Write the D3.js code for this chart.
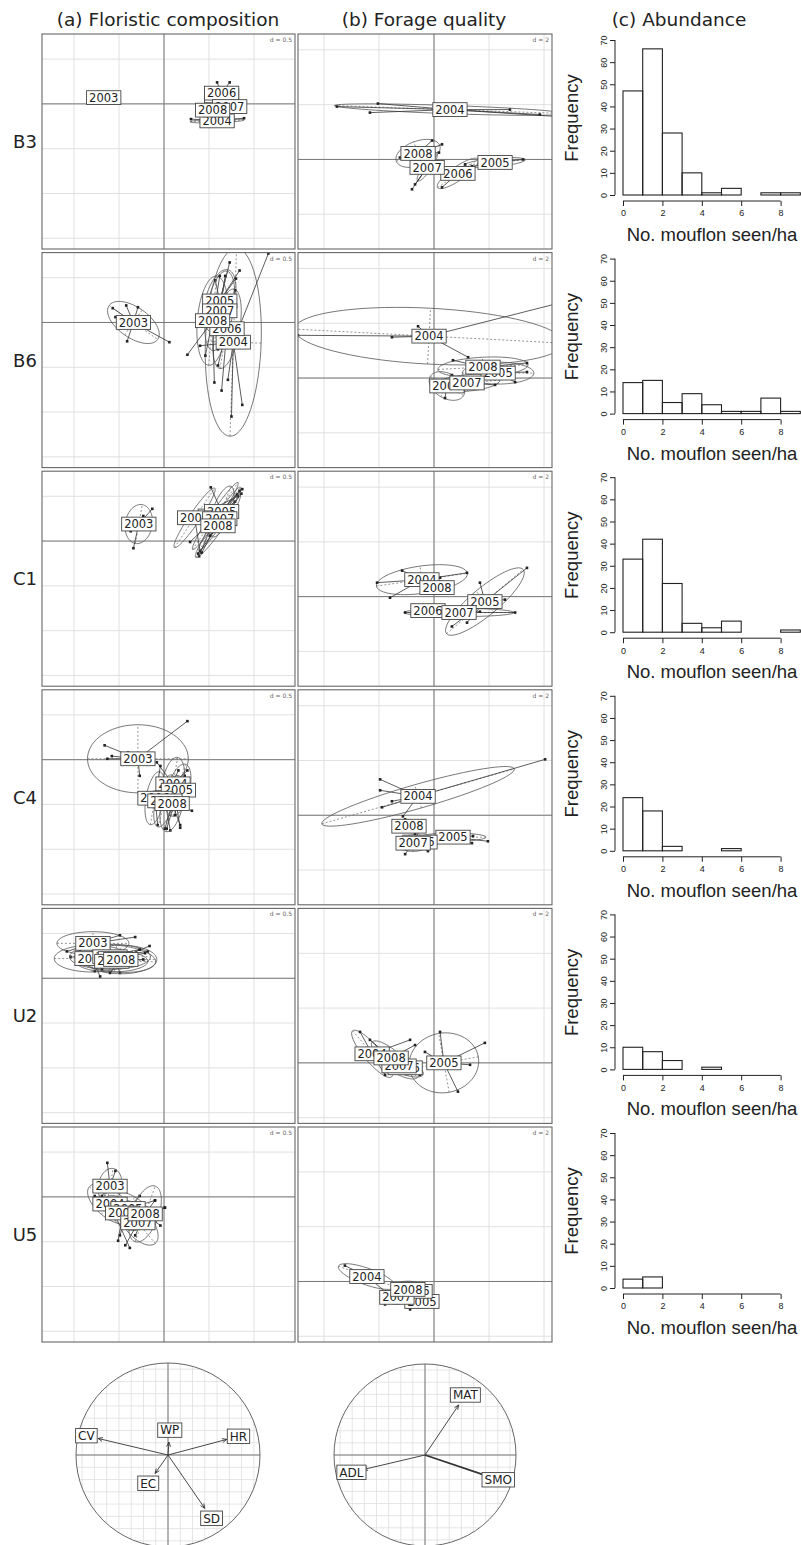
<!DOCTYPE html>
<html><head><meta charset="utf-8">
<script src="https://cdn.jsdelivr.net/npm/d3@7"></script>
<style>body{margin:0;background:#fff}</style>
</head><body><svg id="c" width="801" height="1545"></svg>
<script>
// ---------------- DATA ----------------
const rows = ["B3","B6","C1","C4","U2","U5"];
const headers = ["(a) Floristic composition","(b) Forage quality","(c) Abundance"];
const dLabels = ["d = 0.5","d = 2"];
const gridStep = [0.5, 2];
const limA = [[-1.356,1.456],[-1.62,0.78]];
const limB = [[-4.945,4.29],[-3.27,4.58]];
const limB2 = [[-4.945,4.29],[-2.21,5.64]];

// s.class data: centroid c, ellipse e = [semi-axis 1, semi-axis 2, angle deg], points p
const flo_B3 = [
 {yr:"2003", c:[-0.67,0.07], e:[0.05,0.03,0], p:[[-0.71,0.08],[-0.63,0.06]]},
 {yr:"2004", c:[0.59,-0.19], e:[0.30,0.02,2], p:[[0.30,-0.17],[0.89,-0.16],[0.50,-0.20],[0.72,-0.19]]},
 {yr:"2005", c:[0.64,0.09], e:[0.08,0.03,0], p:[[0.58,0.10],[0.70,0.08]]},
 {yr:"2006", c:[0.64,0.12], e:[0.10,0.07,0], p:[[0.59,0.24],[0.73,0.24],[0.66,0.05]]},
 {yr:"2007", c:[0.73,-0.03], e:[0.08,0.03,0], p:[[0.80,-0.02],[0.66,-0.04]]},
 {yr:"2008", c:[0.54,-0.07], e:[0.06,0.03,0], p:[[0.49,-0.06],[0.60,-0.08]]}
];
const flo_B6 = [
 {yr:"2003", c:[-0.34,0.0], e:[0.33,0.17,-35], p:[[-0.42,0.19],[-0.29,0.17],[-0.54,0.06],[-0.41,-0.21],[0.06,-0.22],[-0.57,0.16]]},
 {yr:"2004", c:[0.77,-0.22], e:[1.05,0.31,88], p:[[0.87,-0.92],[1.16,0.77],[0.71,-0.64],[0.84,-0.09],[0.40,-0.26],[0.75,-1.05]]},
 {yr:"2005", c:[0.62,0.24], e:[0.36,0.16,75], p:[[0.73,0.67],[0.84,0.58],[0.57,0.47],[0.49,0.24],[0.80,0.49]]},
 {yr:"2006", c:[0.70,-0.07], e:[0.45,0.14,80], p:[[0.64,-0.76],[0.79,0.36],[0.60,-0.48],[0.75,0.20]]},
 {yr:"2007", c:[0.62,0.13], e:[0.45,0.15,80], p:[[0.68,0.52],[0.53,-0.09],[0.71,0.24],[0.60,-0.30]]},
 {yr:"2008", c:[0.54,0.02], e:[0.50,0.17,85], p:[[0.56,-0.67],[0.46,-0.37],[0.62,0.52],[0.26,-0.36]]}
];
const flo_C1 = [
 {yr:"2003", c:[-0.28,0.19], e:[0.22,0.15,80], p:[[-0.13,0.36],[-0.34,-0.08],[-0.23,0.28],[-0.37,0.11]]},
 {yr:"2004", c:[0.57,0.28], e:[0.45,0.05,56], p:[[0.87,0.58],[0.39,-0.17],[0.68,0.22],[0.79,0.44],[0.50,0.10]]},
 {yr:"2005", c:[0.64,0.33], e:[0.30,0.10,70], p:[[0.52,0.60],[0.29,-0.01],[0.81,0.52]]},
 {yr:"2006", c:[0.34,0.26], e:[0.40,0.06,56], p:[[0.40,-0.11],[0.82,0.50],[0.57,0.22]]},
 {yr:"2007", c:[0.62,0.25], e:[0.42,0.05,57], p:[[0.42,-0.13],[0.84,0.56],[0.73,0.39]]},
 {yr:"2008", c:[0.60,0.17], e:[0.43,0.06,55], p:[[0.38,-0.14],[0.86,0.53],[0.68,0.28],[0.51,0.06]]}
];
const flo_C4 = [
 {yr:"2003", c:[-0.29,0.01], e:[0.56,0.38,0], p:[[0.26,0.43],[-0.66,0.16],[-0.58,0.04],[-0.27,-0.18],[-0.63,0.01],[-0.40,0.08]]},
 {yr:"2004", c:[0.10,-0.27], e:[0.30,0.12,80], p:[[-0.08,-0.03],[0.26,-0.12],[0.18,-0.76],[0.03,-0.46]]},
 {yr:"2005", c:[0.16,-0.34], e:[0.30,0.12,75], p:[[0.23,-0.18],[0.03,-0.77],[0.12,-0.62]]},
 {yr:"2006", c:[-0.10,-0.43], e:[0.30,0.10,80], p:[[-0.04,-0.07],[-0.07,-0.73]]},
 {yr:"2007", c:[0.01,-0.46], e:[0.30,0.10,75], p:[[0.16,-0.12],[0.07,-0.79]]},
 {yr:"2008", c:[0.09,-0.49], e:[0.32,0.12,78], p:[[0.24,-0.23],[0.18,-0.73],[0.01,-0.77],[0.31,-0.57]]}
];
const flo_U2 = [
 {yr:"2003", c:[-0.79,0.39], e:[0.40,0.13,0], p:[[-0.49,0.48],[-1.08,0.30],[-0.93,0.32],[-0.32,0.46]]},
 {yr:"2004", c:[-0.80,0.22], e:[0.42,0.15,0], p:[[-1.04,0.24],[-0.27,0.32],[-0.71,0.02]]},
 {yr:"2005", c:[-0.60,0.24], e:[0.45,0.14,0], p:[[-0.18,0.30],[-0.77,0.08]]},
 {yr:"2006", c:[-0.54,0.22], e:[0.45,0.15,-5], p:[[-0.21,0.28],[-0.49,0.06]]},
 {yr:"2007", c:[-0.58,0.19], e:[0.40,0.12,0], p:[[-0.16,0.36],[-0.69,0.10]]},
 {yr:"2008", c:[-0.48,0.21], e:[0.40,0.16,0], p:[[-0.27,0.32],[-0.60,0.06],[-0.23,0.21]]}
];
const flo_U5 = [
 {yr:"2003", c:[-0.60,0.12], e:[0.20,0.13,80], p:[[-0.63,0.38],[-0.54,0.29],[-0.69,0.01]]},
 {yr:"2004", c:[-0.60,-0.08], e:[0.30,0.15,-40], p:[[-0.38,-0.57],[-0.77,0.01],[-0.43,-0.04]]},
 {yr:"2005", c:[-0.40,-0.13], e:[0.30,0.15,-30], p:[[-0.10,-0.04],[-0.49,-0.43]]},
 {yr:"2006", c:[-0.46,-0.18], e:[0.25,0.12,-45], p:[[-0.27,0.01],[-0.51,-0.49]]},
 {yr:"2007", c:[-0.29,-0.29], e:[0.30,0.15,-50], p:[[-0.43,-0.54],[0.01,-0.12]]},
 {yr:"2008", c:[-0.21,-0.19], e:[0.33,0.15,70], p:[[0.01,-0.12],[-0.10,-0.04],[-0.04,-0.32],[-0.32,-0.43]]}
];

const for_B3 = [
 {yr:"2004", c:[0.58,1.82], e:[4.2,0.15,-2], p:[[-2.04,2.04],[-2.33,1.71],[-3.53,1.93],[2.76,1.82],[3.85,1.64],[4.60,1.56]]},
 {yr:"2005", c:[2.22,-0.11], e:[1.1,0.15,5], p:[[3.24,0.0],[1.38,-0.25],[2.76,-0.11]]},
 {yr:"2006", c:[0.87,-0.51], e:[0.9,0.25,35], p:[[0.29,-1.02],[1.13,-0.18],[1.31,-0.36]]},
 {yr:"2007", c:[-0.25,-0.29], e:[0.6,0.15,55], p:[[-0.80,-1.09],[-0.69,-0.91],[0.22,-0.18]]},
 {yr:"2008", c:[-0.58,0.22], e:[0.84,0.45,20], p:[[-0.07,0.69],[0.29,0.55],[0.18,0.25],[-1.24,0.07]]}
];
const for_B6 = [
 {yr:"2004", c:[-0.18,1.53], e:[4.9,1.02,-3], p:[[-0.58,1.89],[-1.53,1.49],[-4.95,1.56],[4.95,2.84],[1.24,0.76]]},
 {yr:"2005", c:[2.33,0.18], e:[1.3,0.4,0], p:[[3.38,0.22],[2.95,-0.15],[1.31,0.29]]},
 {yr:"2006", c:[0.47,-0.29], e:[0.7,0.45,-30], p:[[0.40,-0.73],[0.65,0.11]]},
 {yr:"2007", c:[1.20,-0.18], e:[1.2,0.3,5], p:[[2.22,-0.25],[0.22,-0.15]]},
 {yr:"2008", c:[1.78,0.40], e:[1.64,0.36,3], p:[[3.38,0.55],[0.69,0.65],[2.58,0.22]]}
];
const for_C1 = [
 {yr:"2004", c:[-0.44,0.62], e:[1.67,0.5,8], p:[[-1.16,0.95],[1.2,0.87],[-1.6,-0.04],[-2.07,0.51],[0.22,0.69]]},
 {yr:"2005", c:[1.85,-0.18], e:[1.82,0.5,40], p:[[3.38,1.05],[1.67,0.51],[0.65,-1.09],[1.2,-0.95],[2.58,-0.11]]},
 {yr:"2006", c:[-0.22,-0.51], e:[0.5,0.2,0], p:[[-0.51,-0.55],[0.22,-0.40]]},
 {yr:"2007", c:[0.91,-0.58], e:[2.0,0.15,0], p:[[-1.05,-0.58],[2.95,-0.58],[1.67,-0.55]]},
 {yr:"2008", c:[0.11,0.33], e:[0.6,0.25,0], p:[[0.40,0.51],[-0.22,0.11]]}
];
const for_C4 = [
 {yr:"2004", c:[-0.58,0.69], e:[3.64,0.44,16], p:[[4.04,2.04],[-1.96,0.91],[-1.89,0.29],[-1.13,-0.04],[-1.53,0.51],[-1.96,1.31]]},
 {yr:"2005", c:[0.69,-0.80], e:[1.2,0.15,0], p:[[1.42,-0.76],[1.38,-1.02],[1.96,-0.95]]},
 {yr:"2006", c:[-0.51,-0.98], e:[0.5,0.25,0], p:[[-0.87,-1.2],[-0.15,-0.9]]},
 {yr:"2007", c:[-0.76,-1.02], e:[0.6,0.3,0], p:[[-1.05,-1.42],[-0.22,-1.31],[-0.51,-0.51]]},
 {yr:"2008", c:[-0.91,-0.40], e:[0.4,0.2,0], p:[[-1.05,-0.15],[-0.69,-0.69],[-0.40,-0.20]]}
];
const for_U2 = [
 {yr:"2004", c:[-2.25,0.33], e:[1.1,0.3,-50], p:[[-2.69,1.13],[-1.78,-0.44],[-0.87,0.84]]},
 {yr:"2005", c:[0.36,0.0], e:[1.27,1.09,10], p:[[1.85,0.73],[0.87,-1.05],[-0.33,0.40],[1.31,-0.07],[0.22,1.13]]},
 {yr:"2006", c:[-1.05,-0.18], e:[0.7,0.25,-20], p:[[-1.6,0.0],[-0.51,-0.44]]},
 {yr:"2007", c:[-1.27,-0.11], e:[0.8,0.3,-30], p:[[-1.96,0.11],[-0.80,-0.33]]},
 {yr:"2008", c:[-1.56,0.18], e:[0.9,0.3,-40], p:[[-2.33,0.84],[-1.24,-0.25],[-0.69,0.65]]}
];
const for_U5 = [
 {yr:"2004", c:[-2.44,0.18], e:[1.1,0.3,-20], p:[[-3.24,0.58],[-1.78,-0.36],[-2.69,0.36]]},
 {yr:"2005", c:[-0.44,-0.73], e:[0.5,0.25,0], p:[[-0.15,-0.47],[-0.87,-1.02]]},
 {yr:"2006", c:[-0.69,-0.36], e:[0.5,0.25,0], p:[[-0.33,-0.22],[-1.05,-0.58]]},
 {yr:"2007", c:[-1.35,-0.58], e:[0.5,0.25,0], p:[[-1.78,-0.84],[-0.87,-0.65]]},
 {yr:"2008", c:[-0.95,-0.29], e:[0.6,0.3,0], p:[[-1.42,-0.11],[-0.51,-0.11]]}
];

// histograms: counts per bin of width 1, from 0 to 9
const binEdges = [0,1,2,3,4,5,6,7,8,9];
const hist_B3 = [47,66,28,10,1,3,0,1,1];
const hist_B6 = [14,15,5,9,4,1,1,7,1];
const hist_C1 = [33,42,22,4,2,5,0,0,1];
const hist_C4 = [24,18,2,0,0,1,0,0,0];
const hist_U2 = [10,8,4,0,1,0,0,0,0];
const hist_U5 = [4,5,0,0,0,0,0,0,0];
const histXTicks = [0,2,4,6,8];
const histYTicks = [0,10,20,30,40,50,60,70];
const histXLabel = "No. mouflon seen/ha";
const histYLabel = "Frequency";

// correlation circles
const floVars = ["CV","WP","HR","EC","SD"];
const floLoadX = [-0.76,0.01,0.64,-0.14,0.40];
const floLoadY = [0.18,0.14,0.17,-0.20,-0.58];
const forVars = ["MAT","ADL","SMO"];
const forLoadX = [0.37,-0.68,0.68];
const forLoadY = [0.55,-0.16,-0.23];

// ---------------- DRAWING ----------------
const svg = d3.select("#c");
const SANS = "'DejaVu Sans', sans-serif";
const ARIAL = "'Liberation Sans', Arial, sans-serif";
const TOP0 = 34, STEP = 218.6, PH = 215;
const colX = [[42,295],[298,552]];
let clipN = 0;

function boxLabel(g, cx, cy, txt, fs){
  const gg = g.append("g");
  const r = gg.append("rect");
  const t = gg.append("text").attr("x",cx).attr("y",cy+fs*0.36)
    .attr("text-anchor","middle").attr("font-family",SANS).attr("font-size",fs)
    .attr("fill","#222").text(txt);
  const w = t.node().getComputedTextLength();
  r.attr("x",cx-w/2-2.5).attr("y",cy-fs*0.6).attr("width",w+5).attr("height",fs*1.2)
   .attr("fill","#fff").attr("stroke","#444").attr("stroke-width",0.9);
}

function sclass(x0,x1,yTop,lim,d,dlab,classes){
  const yBot = yTop+PH;
  const x = d3.scaleLinear().domain(lim[0]).range([x0,x1]);
  const y = d3.scaleLinear().domain(lim[1]).range([yBot,yTop]);
  const id = "clip"+(clipN++);
  svg.append("clipPath").attr("id",id).append("rect")
    .attr("x",x0).attr("y",yTop).attr("width",x1-x0).attr("height",PH);
  const g = svg.append("g").attr("clip-path",`url(#${id})`);
  const gxs = d3.range(Math.ceil(lim[0][0]/d), Math.floor(lim[0][1]/d)+1).map(k=>k*d);
  const gys = d3.range(Math.ceil(lim[1][0]/d), Math.floor(lim[1][1]/d)+1).map(k=>k*d);
  g.selectAll(null).data(gxs).join("line")
    .attr("x1",v=>x(v)).attr("x2",v=>x(v)).attr("y1",yTop).attr("y2",yBot)
    .attr("stroke","#dcdcdc").attr("stroke-width",0.9);
  g.selectAll(null).data(gys).join("line")
    .attr("y1",v=>y(v)).attr("y2",v=>y(v)).attr("x1",x0).attr("x2",x1)
    .attr("stroke","#dcdcdc").attr("stroke-width",0.9);
  g.append("line").attr("x1",x(0)).attr("x2",x(0)).attr("y1",yTop).attr("y2",yBot)
    .attr("stroke","#777").attr("stroke-width",1);
  g.append("line").attr("y1",y(0)).attr("y2",y(0)).attr("x1",x0).attr("x2",x1)
    .attr("stroke","#777").attr("stroke-width",1);
  g.append("text").attr("x",x1-3).attr("y",yTop+8).attr("text-anchor","end")
    .attr("font-family",SANS).attr("font-size",6).attr("fill","#666").text(dlab);

  const line = d3.line().x(p=>x(p[0])).y(p=>y(p[1]));
  classes.forEach(k=>{
    const a = k.e[2]*Math.PI/180, rx = k.e[0], ry = k.e[1];
    const ell = d3.range(0,73).map(i=>{
      const t = i/72*2*Math.PI;
      return [k.c[0]+rx*Math.cos(t)*Math.cos(a)-ry*Math.sin(t)*Math.sin(a),
              k.c[1]+rx*Math.cos(t)*Math.sin(a)+ry*Math.sin(t)*Math.cos(a)];
    });
    g.append("path").attr("d",line(ell)).attr("fill","none").attr("stroke","#555").attr("stroke-width",0.8);
    [[rx*Math.cos(a),rx*Math.sin(a)],[-ry*Math.sin(a),ry*Math.cos(a)]].forEach(v=>{
      g.append("path").attr("d",line([[k.c[0]-v[0],k.c[1]-v[1]],[k.c[0]+v[0],k.c[1]+v[1]]]))
       .attr("stroke","#666").attr("stroke-width",0.7).attr("stroke-dasharray","2,2").attr("fill","none");
    });
    k.p.forEach(p=>{
      g.append("path").attr("d",line([k.c,p])).attr("stroke","#333").attr("stroke-width",0.8).attr("fill","none");
      g.append("rect").attr("x",x(p[0])-1.3).attr("y",y(p[1])-1.3).attr("width",2.6).attr("height",2.6).attr("fill","#222");
    });
  });
  classes.forEach(k=> boxLabel(g, x(k.c[0]), y(k.c[1]), k.yr, 11.5));
  svg.append("rect").attr("x",x0).attr("y",yTop).attr("width",x1-x0).attr("height",PH)
    .attr("fill","none").attr("stroke","#666").attr("stroke-width",1.1);
}

function histo(i, counts){
  const base = 195 + i*STEP;
  const x = d3.scaleLinear().domain([0,9]).range([623,800.3]);
  const y = d3.scaleLinear().domain([0,70]).range([base, base-155]);
  const g = svg.append("g");
  g.selectAll(null).data(counts).join("rect")
    .attr("x",(c,j)=>x(binEdges[j])).attr("width",(c,j)=>x(binEdges[j+1])-x(binEdges[j]))
    .attr("y",c=>y(c)).attr("height",c=>base-y(c))
    .attr("fill","none").attr("stroke","#222").attr("stroke-width",1.1);
  const xa = g.append("g").attr("transform",`translate(0,${base+6})`)
    .call(d3.axisBottom(x).tickValues(histXTicks).tickSize(5).tickSizeOuter(0).tickPadding(4));
  xa.select(".domain").attr("d",`M${x(0)},0H${x(8)}`).attr("stroke","#222");
  xa.selectAll("text").attr("font-family",ARIAL).attr("font-size",9).attr("fill","#222");
  xa.selectAll(".tick line").attr("stroke","#222");
  const ya = g.append("g").attr("transform",`translate(615,0)`)
    .call(d3.axisLeft(y).tickValues(histYTicks).tickSize(5).tickSizeOuter(0).tickPadding(3));
  ya.select(".domain").attr("d",`M0,${y(0)}V${y(70)}`).attr("stroke","#222");
  ya.selectAll(".tick line").attr("stroke","#222");
  ya.selectAll("text").attr("font-family",ARIAL).attr("font-size",9).attr("fill","#222")
    .attr("text-anchor","middle").attr("dy",null)
    .attr("transform","translate(-11,0) rotate(-90)")
    .attr("x",0).attr("y",3);
  g.append("text").attr("transform",`translate(578,${base-77}) rotate(-90)`)
    .attr("text-anchor","middle").attr("font-family",ARIAL).attr("font-size",18.5).attr("fill","#222").text(histYLabel);
  g.append("text").attr("x",712).attr("y",base+46).attr("text-anchor","middle")
    .attr("font-family",ARIAL).attr("font-size",18.5).attr("fill","#222").text(histXLabel);
}

function corcircle(cx,cy,r,names,lx,ly,thick){
  const x = d3.scaleLinear().domain([-1,1]).range([cx-r,cx+r]);
  const y = d3.scaleLinear().domain([-1,1]).range([cy+r,cy-r]);
  const id = "clip"+(clipN++);
  svg.append("clipPath").attr("id",id).append("circle").attr("cx",cx).attr("cy",cy).attr("r",r);
  const g = svg.append("g");
  const gc = g.append("g").attr("clip-path",`url(#${id})`);
  const gs = d3.range(-7,8).map(k=>k/7.5);
  gc.selectAll(null).data(gs).join("line").attr("x1",v=>x(v)).attr("x2",v=>x(v))
    .attr("y1",cy-r).attr("y2",cy+r).attr("stroke","#dedede").attr("stroke-width",0.8);
  gc.selectAll(null).data(gs).join("line").attr("y1",v=>y(v)).attr("y2",v=>y(v))
    .attr("x1",cx-r).attr("x2",cx+r).attr("stroke","#dedede").attr("stroke-width",0.8);
  g.append("line").attr("x1",x(-1)).attr("x2",x(1)).attr("y1",y(0)).attr("y2",y(0)).attr("stroke","#777");
  g.append("line").attr("x1",x(0)).attr("x2",x(0)).attr("y1",y(1)).attr("y2",y(-1)).attr("stroke","#777");
  g.append("circle").attr("cx",cx).attr("cy",cy).attr("r",r).attr("fill","none").attr("stroke","#666").attr("stroke-width",1);
  names.forEach((n,i)=>{
    const ex = x(lx[i]), ey = y(ly[i]);
    const dx = ex-cx, dy = ey-cy, L = Math.hypot(dx,dy), ux = dx/L, uy = dy/L;
    const sw = (thick && thick.includes(n)) ? 1.8 : 0.9;
    g.append("line").attr("x1",cx).attr("y1",cy).attr("x2",ex).attr("y2",ey).attr("stroke","#333").attr("stroke-width",sw);
    const ah = 5, ang = 0.4;
    [ang,-ang].forEach(s=>{
      const c = Math.cos(s), sn = Math.sin(s);
      const bx = -(ux*c - uy*sn), by = -(ux*sn + uy*c);
      g.append("line").attr("x1",ex).attr("y1",ey).attr("x2",ex+bx*ah).attr("y2",ey+by*ah).attr("stroke","#333").attr("stroke-width",0.9);
    });
    boxLabel(g, ex+ux*12, ey+uy*12, n, 12);
  });
}

// headers
const headX = [168, 424, 679];
headers.forEach((h,i)=> svg.append("text").attr("x",headX[i]).attr("y",26).attr("text-anchor","middle")
  .attr("font-family",SANS).attr("font-size",18.5).attr("fill","#222").text(h));

const floPanels = [flo_B3,flo_B6,flo_C1,flo_C4,flo_U2,flo_U5];
const forPanels = [for_B3,for_B6,for_C1,for_C4,for_U2,for_U5];
const forLims = [limB,limB,limB,limB,limB2,limB2];
const hists = [hist_B3,hist_B6,hist_C1,hist_C4,hist_U2,hist_U5];

rows.forEach((r,i)=>{
  const top = TOP0 + i*STEP;
  svg.append("text").attr("x",25).attr("y",top+114).attr("text-anchor","middle")
    .attr("font-family",SANS).attr("font-size",18).attr("fill","#222").text(r);
  sclass(colX[0][0],colX[0][1],top,limA,gridStep[0],dLabels[0],floPanels[i]);
  sclass(colX[1][0],colX[1][1],top,forLims[i],gridStep[1],dLabels[1],forPanels[i]);
  histo(i,hists[i]);
});

corcircle(168,1455,92,floVars,floLoadX,floLoadY,[]);
corcircle(425,1455,91,forVars,forLoadX,forLoadY,["SMO"]);
</script>
</body></html>
